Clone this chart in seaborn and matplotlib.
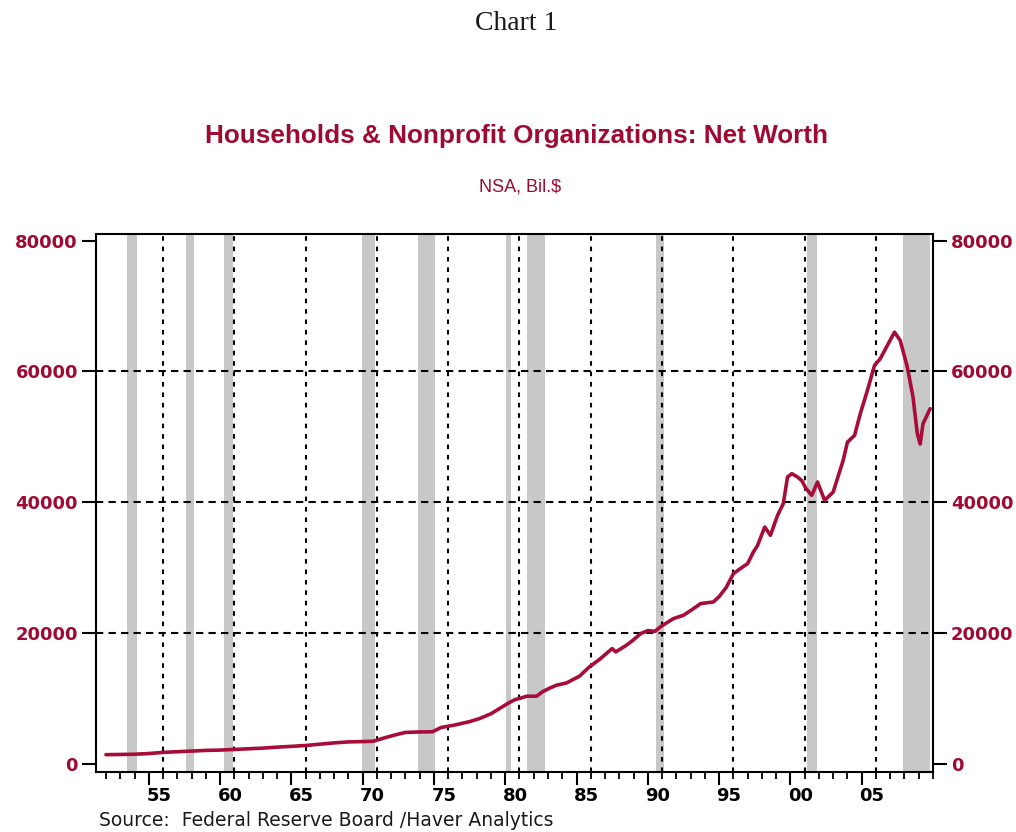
import numpy as np
import pandas as pd
import matplotlib
matplotlib.use('Agg')
import matplotlib.pyplot as plt
import matplotlib.transforms as mtransforms
from matplotlib.ticker import MultipleLocator
import seaborn as sns

# household & nonprofit net worth, Bil.$, decimal years
years = [1952.0, 1953.0, 1954.0, 1955.0, 1956.0, 1957.0, 1958.0, 1959.0, 1960.0, 1961.0,
         1962.0, 1963.0, 1964.0, 1965.0, 1966.0, 1967.0, 1968.0, 1969.0, 1970.0, 1970.75,
         1971.5, 1972.25, 1973.0, 1974.0, 1974.9, 1975.5, 1976.5, 1977.5, 1978.2, 1979.0,
         1979.6, 1980.2, 1980.7, 1981.0, 1981.5, 1982.2, 1982.6, 1983.1, 1983.6, 1984.3,
         1985.2, 1985.9, 1986.6, 1987.2, 1987.5, 1987.75, 1988.5, 1989.0, 1989.5, 1990.0,
         1990.5, 1990.9, 1991.4, 1991.8, 1992.5, 1993.1, 1993.7, 1994.6, 1995.0, 1995.5,
         1996.0, 1996.5, 1997.0, 1997.4, 1997.7, 1998.2, 1998.6, 1999.1, 1999.5, 1999.8,
         2000.1, 2000.5, 2000.8, 2001.1, 2001.5, 2001.9, 2002.4, 2003.0, 2003.7, 2004.0,
         2004.5, 2004.9, 2005.4, 2005.9, 2006.3, 2006.8, 2007.3, 2007.7, 2008.2, 2008.6,
         2008.9, 2009.1, 2009.3, 2009.8]
net_worth = [1450, 1480, 1520, 1620, 1800, 1900, 2000, 2100, 2150, 2250,
             2350, 2450, 2600, 2720, 2850, 3050, 3250, 3400, 3450, 3500,
             4000, 4450, 4850, 4920, 4950, 5600, 6000, 6500, 6970, 7700,
             8500, 9300, 9880, 10030, 10380, 10380, 11040, 11600, 12060, 12410,
             13430, 14860, 15980, 17100, 17660, 17150, 18170, 19000, 19950, 20400,
             20300, 21000, 21700, 22240, 22750, 23600, 24530, 24780, 25600, 27000,
             29100, 29900, 30640, 32400, 33430, 36230, 34960, 38020, 39800, 43870,
             44380, 43870, 43300, 42090, 41070, 43100, 40300, 41570, 46410, 49200,
             50230, 53540, 57100, 60920, 61940, 63970, 66000, 64730, 60660, 56080,
             50490, 48900, 52000, 54300]

# NBER recessions (shaded)
rec_start = [1953.5, 1957.6, 1960.3, 1969.95, 1973.9, 1980.05, 1981.5, 1990.55, 2001.15, 2007.9]
rec_end = [1954.2, 1958.2, 1960.9, 1970.9, 1975.1, 1980.4, 1982.8, 1991.1, 2001.85, 2009.8]

tick_years = [1955, 1960, 1965, 1970, 1975, 1980, 1985, 1990, 1995, 2000, 2005]
tick_labels = ['55', '60', '65', '70', '75', '80', '85', '90', '95', '00', '05']
y_ticks = [0, 20000, 40000, 60000, 80000]
y_labels = ['0', '20000', '40000', '60000', '80000']

RED = '#9E0A32'
LINE_RED = '#A80C38'

sns.set_theme(style='white')
plt.rcParams['font.family'] = ['DejaVu Sans']

df = pd.DataFrame({'year': years, 'net_worth': net_worth})

fig = plt.figure(figsize=(10.16, 8.32), dpi=100)
ax = fig.add_axes([0.0945, 0.0721, 0.8238, 0.6467])

for s, e in zip(rec_start, rec_end):
    ax.axvspan(s, e, color='#C8C8C8', lw=0, zorder=0)

# dashed grid, vertical lines sit one year right of the major ticks
for y in tick_years:
    ax.axvline(y + 1, color='black', lw=1.5, ls=(0, (2.2, 2.8)), zorder=1)
for v in y_ticks[1:-1]:
    ax.axhline(v, color='black', lw=1.5, ls=(0, (3.5, 2.5)), zorder=1)

sns.lineplot(data=df, x='year', y='net_worth', ax=ax, color=LINE_RED,
             lw=2.6, estimator=None, zorder=3)

ax.set_xlim(1951.3, 2010.0)
ax.set_ylim(-1200, 81000)
ax.set_xlabel('')
ax.set_ylabel('')

ax.set_xticks(tick_years, tick_labels)
ax.xaxis.set_minor_locator(MultipleLocator(1))
ax.tick_params(axis='x', which='major', length=9, width=1.5, color='black',
               direction='out', bottom=True, labelsize=13, pad=2)
ax.tick_params(axis='x', which='minor', length=5, width=1.3, color='black',
               direction='out', bottom=True)
for lab in ax.get_xticklabels():
    lab.set_fontweight('bold')
    lab.set_color('black')
    lab.set_transform(lab.get_transform() +
                      mtransforms.ScaledTranslation(0.10, 0, fig.dpi_scale_trans))

ax.set_yticks(y_ticks, y_labels)
ax.tick_params(axis='y', which='major', length=10, width=1.5, color='black',
               direction='out', left=True, right=True, labelleft=True,
               labelright=True, labelsize=13, labelcolor=RED, pad=3)
for t in ax.yaxis.get_major_ticks():
    t.label1.set_fontweight('bold')
    t.label2.set_fontweight('bold')

for sp in ax.spines.values():
    sp.set_visible(True)
    sp.set_color('black')
    sp.set_linewidth(1.5)

fig.text(0.508, 1 - 24 / 832, 'Chart 1', ha='center', va='center',
         fontsize=20, family='Liberation Serif', color='#1a1a1a')
fig.text(0.508, 1 - 136 / 832, 'Households & Nonprofit Organizations: Net Worth',
         ha='center', va='center', fontsize=18.8, fontweight='bold',
         family='Liberation Sans', color=RED)
fig.text(0.512, 1 - 187 / 832, 'NSA, Bil.$', ha='center', va='center',
         fontsize=13, family='Liberation Sans', color=RED)
fig.text(0.097, 1 - 821 / 832, 'Source:  Federal Reserve Board /Haver Analytics',
         ha='left', va='center', fontsize=13.5, color='#1a1a1a')

fig.savefig('out.png', dpi=100)
